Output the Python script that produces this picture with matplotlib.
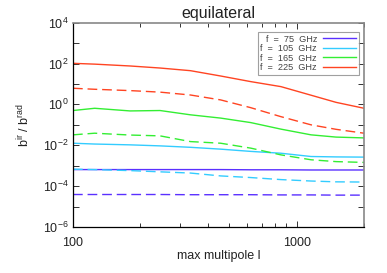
import numpy as np
import matplotlib
matplotlib.use("Agg")
import matplotlib.pyplot as plt
from matplotlib.ticker import NullFormatter, FixedLocator, FixedFormatter

plt.rcParams['font.family'] = ['Liberation Sans', 'DejaVu Sans']
plt.rcParams['mathtext.fontset'] = 'custom'
plt.rcParams['mathtext.rm'] = 'Liberation Sans'
plt.rcParams['mathtext.it'] = 'Liberation Sans'

# multipole sample points
ell = [100, 125, 180, 245, 335, 457, 623, 850, 1159, 1500, 2000]

# log10(b_ir / b_rad)
red_solid   = [2.01, 1.97, 1.88, 1.78, 1.65, 1.39, 1.115, 0.87, 0.45, 0.10, -0.19]
red_dash    = [0.79, 0.74, 0.675, 0.60, 0.46, 0.22, -0.16, -0.60, -1.00, -1.22, -1.41]
green_solid = [-0.30, -0.19, -0.32, -0.30, -0.51, -0.67, -0.89, -1.21, -1.49, -1.60, -1.64]
green_dash  = [-1.49, -1.41, -1.50, -1.54, -1.82, -1.90, -2.14, -2.47, -2.71, -2.80, -2.84]
cyan_solid  = [-1.90, -1.94, -1.98, -2.03, -2.10, -2.19, -2.30, -2.39, -2.55, -2.57, -2.58]
cyan_dash   = [-3.17, -3.19, -3.24, -3.30, -3.36, -3.50, -3.58, -3.68, -3.75, -3.79, -3.80]
blue_solid  = [-3.19, -3.19, -3.19, -3.19, -3.19, -3.19, -3.20, -3.20, -3.21, -3.21, -3.21]
blue_dash   = [-4.41, -4.41, -4.41, -4.41, -4.42, -4.42, -4.42, -4.43, -4.43, -4.44, -4.44]

labels = ['  f  =  75  GHz', 'f  =  105  GHz', 'f  =  165  GHz', 'f  =  225  GHz']
colors = ['#5a30ff', '#33ccff', '#33ee33', '#ff4422']

solid = [blue_solid, cyan_solid, green_solid, red_solid]
dashed = [blue_dash, cyan_dash, green_dash, red_dash]

fig = plt.figure(figsize=(3.87, 2.73), dpi=100)
ax = fig.add_axes([0.1886, 0.1685, 0.752, 0.7485])

for s, d, c, lab in zip(solid, dashed, colors, labels):
    ax.plot(ell, 10 ** np.array(s), color=c, lw=1.0, label=lab)
    ax.plot(ell, 10 ** np.array(d), color=c, lw=1.0, dashes=(7, 3.5))

ax.set_xscale('log')
ax.set_yscale('log')
ax.set_xlim(100, 2000)
ax.set_ylim(1e-6, 1e4)

ax.xaxis.set_major_locator(FixedLocator([100, 1000]))
ax.xaxis.set_major_formatter(FixedFormatter(['100', '1000']))
ax.xaxis.set_minor_locator(FixedLocator([200, 300, 400, 500, 600, 700, 800, 900, 2000]))
ax.xaxis.set_minor_formatter(NullFormatter())

yt = [10.0 ** k for k in range(-6, 5)]
ax.yaxis.set_major_locator(FixedLocator(yt))
ax.yaxis.set_major_formatter(FixedFormatter(
    [r'$10^{%d}$' % k if k % 2 == 0 else '' for k in range(-6, 5)]))
ax.yaxis.set_minor_locator(FixedLocator([]))

ax.tick_params(which='both', direction='in', top=True, right=True, labelsize=9,
               width=0.7, color='#333333', labelcolor='#222222')
ax.tick_params(which='major', length=4)
ax.tick_params(which='minor', length=3)
ax.tick_params(axis='x', pad=7)
ax.tick_params(axis='y', pad=3)

for sp in ['left', 'bottom']:
    ax.spines[sp].set_linewidth(0.9)
    ax.spines[sp].set_color('black')
for sp in ['top', 'right']:
    ax.spines[sp].set_linewidth(1.2)
    ax.spines[sp].set_color('#888888')

ax.set_xlabel('max multipole l', fontsize=9, labelpad=1, color='#222222')
ax.set_ylabel(r'b$^{ir}$ / b$^{rad}$', fontsize=9, labelpad=8, color='#222222')
ax.set_title('equilateral', fontsize=11.5, pad=3, color='#222222')

leg = ax.legend(loc='upper right', fontsize=6.6, markerfirst=False, frameon=True,
                fancybox=False, edgecolor='#888888', handlelength=3.6,
                borderpad=0.3, labelspacing=0.05, handletextpad=0.7,
                borderaxespad=0, bbox_to_anchor=(0.983, 0.955))
leg.get_frame().set_linewidth(0.8)
for t in leg.get_texts():
    t.set_color('#444444')

fig.savefig('out.png', dpi=100)
